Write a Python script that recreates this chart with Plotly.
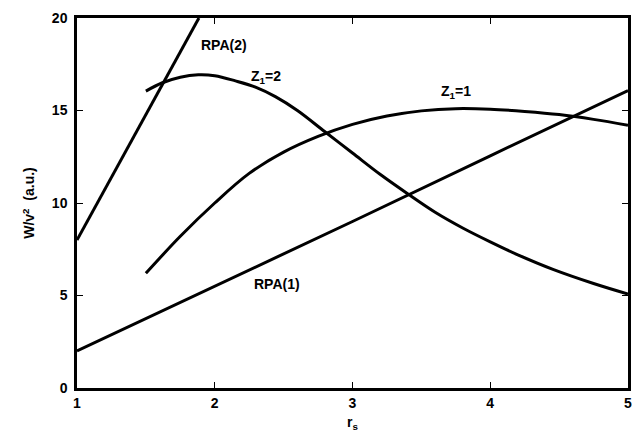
import plotly.graph_objects as go

# Data
rpa1_x = [1.0, 2.0, 3.0, 4.0, 5.0]
rpa1_y = [2.0, 5.5, 9.0, 12.55, 16.08]

rpa2_x = [1.0, 1.885]
rpa2_y = [8.0, 20.0]

z2_x = [1.5, 1.62, 1.75, 1.88, 2.0, 2.15, 2.3, 2.44, 2.6, 2.8, 3.0, 3.2, 3.4, 3.6, 3.8, 4.0, 4.2, 4.46, 4.75, 5.0]
z2_y = [16.05, 16.5, 16.8, 16.93, 16.88, 16.6, 16.25, 15.75, 15.0, 13.85, 12.7, 11.55, 10.5, 9.5, 8.65, 7.9, 7.2, 6.4, 5.65, 5.08]

z1_x = [1.5, 1.75, 2.0, 2.25, 2.5, 2.75, 3.0, 3.25, 3.5, 3.75, 4.0, 4.25, 4.5, 4.75, 5.0]
z1_y = [6.2, 8.2, 10.0, 11.6, 12.75, 13.6, 14.25, 14.7, 14.98, 15.1, 15.07, 14.95, 14.78, 14.52, 14.2]

x_ticks = [1, 2, 3, 4, 5]
y_ticks = [0, 5, 10, 15, 20]

labels = [
    ("RPA(2)", 2.07, 18.55),
    ("Z<sub>1</sub>=2", 2.375, 16.8),
    ("Z<sub>1</sub>=1", 3.75, 16.0),
    ("RPA(1)", 2.45, 5.6),
]

FONT = "Liberation Sans, Arial, Helvetica, sans-serif"

fig = go.Figure()
for xs, ys, shape in [(rpa1_x, rpa1_y, "linear"), (rpa2_x, rpa2_y, "linear"),
                      (z2_x, z2_y, "spline"), (z1_x, z1_y, "spline")]:
    fig.add_trace(go.Scatter(x=xs, y=ys, mode="lines",
                             line=dict(color="black", width=3, shape=shape),
                             showlegend=False, hoverinfo="skip"))

for text, x, y in labels:
    fig.add_annotation(x=x, y=y, text=text, showarrow=False,
                       font=dict(family=FONT, size=14, color="black", weight="bold"))

axis_common = dict(showline=True, linecolor="black", linewidth=2.5, mirror="ticks",
                   ticks="inside", ticklen=6, tickwidth=1, tickcolor="black",
                   showgrid=False, zeroline=False, ticklabeloverflow="allow",
                   tickfont=dict(family=FONT, size=14, color="black", weight="bold"))

fig.update_xaxes(range=[1, 5], tickvals=x_ticks, ticktext=[str(v) for v in x_ticks],
                 title=dict(text="r<sub>s</sub>", standoff=8,
                            font=dict(family=FONT, size=14, color="black", weight="bold")),
                 **axis_common)
fig.update_yaxes(range=[0, 20], tickvals=y_ticks, ticktext=[str(v) for v in y_ticks],
                 ticklabelstandoff=4,
                 title=dict(text="W/v<sup>2</sup>  (a.u.)", standoff=14,
                            font=dict(family=FONT, size=14, color="black", weight="bold")),
                 **axis_common)

fig.update_layout(width=626, height=430, margin=dict(l=69, r=4, t=2, b=50),
                  plot_bgcolor="white", paper_bgcolor="white")

fig.write_html("out.html")
